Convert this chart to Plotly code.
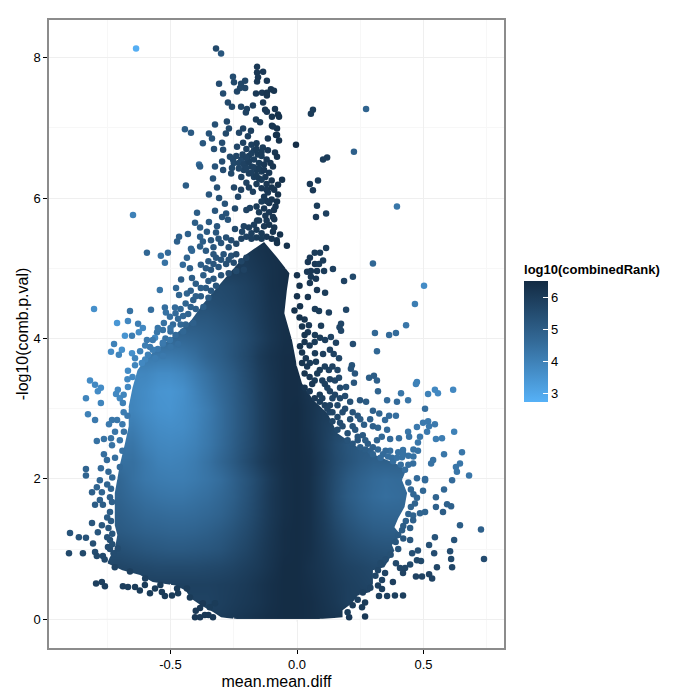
import plotly.graph_objects as go

# ---- dense body: estimated colour value per grid cell ----
body_x_edges = [-0.775 + 0.05 * i for i in range(26)]
body_y_edges = [0, 0.125, 0.375, 0.625, 0.875, 1.125, 1.375, 1.625, 1.875, 2.125, 2.375, 2.625, 2.875, 3.125,
                3.375, 3.625, 3.875, 4.125, 4.375, 4.625, 4.875, 5.125, 5.375]
row_start = [9, 7, 6, 1, 1, 1, 1, 1, 1, 2, 2, 2, 2, 2, 3, 4, 6, 7, 8, 9, 11, 11]
row_00 = [6.0, 6.1, 6.2, 6.3, 6.4, 6.45, 6.45, 6.4, 6.3, 6.2]
row_025 = [5.8, 5.8, 5.9, 6.0, 6.1, 6.2, 6.35, 6.45, 6.45, 6.4, 6.25, 6.1, 5.9]
row_050 = [5.85, 5.85, 5.85, 5.9, 5.95, 6.05, 6.2, 6.35, 6.45, 6.45, 6.35, 6.2, 6.05, 5.9, 5.8, 5.7]
row_075 = [5.7, 5.65, 5.6, 5.55, 5.55, 5.55, 5.55, 5.6, 5.65, 5.75, 5.9, 6.05, 6.25, 6.45, 6.45, 6.3, 6.15, 5.95, 5.8, 5.7, 5.6]
row_100 = [5.4, 5.3, 5.2, 5.15, 5.1, 5.1, 5.15, 5.2, 5.3, 5.5, 5.7, 5.95, 6.2, 6.4, 6.45, 6.35, 6.1, 5.85, 5.6, 5.45, 5.35, 5.3]
row_125 = [5.1, 5.0, 4.9, 4.85, 4.8, 4.8, 4.85, 4.95, 5.1, 5.3, 5.55, 5.85, 6.15, 6.4, 6.45, 6.35, 6.05, 5.7, 5.4, 5.2, 5.05, 5.0, 5.0]
row_150 = [4.95, 4.8, 4.65, 4.6, 4.55, 4.55, 4.6, 4.7, 4.85, 5.1, 5.4, 5.75, 6.1, 6.35, 6.45, 6.35, 6.0, 5.55, 5.2, 4.95, 4.8, 4.75, 4.75, 4.8]
row_175 = [4.8, 4.6, 4.45, 4.35, 4.3, 4.3, 4.4, 4.5, 4.7, 4.95, 5.3, 5.7, 6.1, 6.35, 6.45, 6.35, 5.95, 5.45, 5.05, 4.8, 4.6, 4.5, 4.55, 4.65]
row_200 = [4.7, 4.45, 4.25, 4.15, 4.1, 4.1, 4.2, 4.35, 4.55, 4.9, 5.25, 5.65, 6.05, 6.35, 6.45, 6.35, 5.95, 5.5, 5.1, 4.85, 4.65, 4.55, 4.6]
row_225 = [4.45, 4.2, 4.0, 3.95, 4.0, 4.15, 4.4, 4.75, 5.1, 5.5, 5.9, 6.2, 6.4, 6.45, 6.35, 6.0, 5.6, 5.3, 5.05, 4.9]
row_250 = [4.3, 4.0, 3.85, 3.8, 3.85, 4.0, 4.25, 4.6, 5.0, 5.4, 5.8, 6.15, 6.4, 6.45, 6.3, 5.95, 5.55, 5.25, 5.1]
row_275 = [4.1, 3.85, 3.7, 3.65, 3.7, 3.9, 4.2, 4.55, 4.95, 5.35, 5.8, 6.15, 6.4, 6.45, 6.25, 5.95, 5.7]
row_300 = [3.9, 3.7, 3.55, 3.5, 3.65, 3.85, 4.15, 4.55, 4.95, 5.35, 5.8, 6.15, 6.4, 6.45, 6.25, 6.0]
row_325 = [3.85, 3.7, 3.5, 3.45, 3.6, 3.95, 4.3, 4.65, 5.0, 5.4, 5.85, 6.15, 6.4, 6.4, 6.2]
row_350 = [3.85, 3.7, 3.7, 3.85, 4.15, 4.45, 4.8, 5.1, 5.5, 5.9, 6.2, 6.4, 6.4]
row_375 = [4.2, 4.2, 4.3, 4.5, 4.8, 5.0, 5.3, 5.6, 6.0, 6.25, 6.4, 6.4]
row_400 = [4.7, 4.8, 4.95, 5.1, 5.3, 5.55, 5.85, 6.15, 6.35, 6.4]
row_425 = [5.1, 5.15, 5.3, 5.45, 5.65, 5.95, 6.2, 6.35]
row_450 = [5.4, 5.5, 5.6, 5.8, 6.0, 6.25, 6.35]
row_475 = [5.6, 5.7, 5.85, 6.05, 6.3, 6.4]
row_500 = [6.0, 6.15, 6.3, 6.4]
row_525 = [6.1, 6.25, 6.35]
body_rows = [row_00, row_025, row_050, row_075, row_100, row_125, row_150, row_175, row_200, row_225, row_250,
             row_275, row_300, row_325, row_350, row_375, row_400, row_425, row_450, row_475, row_500, row_525]

# ---- outline of the solid body ----
edge_left_y = [0, .03, .1, .2, .3, .41, .48, .53, .63, .7, .8, .88, 1.0, 1.2, 1.34, 1.5, 1.65, 1.8, 2.0, 2.2, 2.5, 2.75,
               3.03, 3.3, 3.55, 3.65, 3.8, 4.0, 4.25, 4.5, 4.75, 5.0, 5.2, 5.375]
edge_left_x = [-.24, -.30, -.33, -.38, -.42, -.44, -.48, -.57, -.62, -.69, -.75, -.74, -.72, -.71, -.72, -.72, -.72, -.72,
               -.71, -.70, -.68, -.665, -.665, -.65, -.63, -.61, -.57, -.50, -.42, -.37, -.31, -.25, -.2, -.13]
edge_right_y = [0, .03, .13, .23, .34, .39, .51, .7, .74, .98, 1.06, 1.2, 1.31, 1.44, 1.6, 1.8, 1.98, 2.12, 2.2, 2.31, 2.45,
                2.65, 2.94, 3.12, 3.36, 3.6, 3.98, 4.36, 4.69, 4.93, 5.16, 5.375]
edge_right_x = [.09, .18, .18, .217, .24, .289, .30, .30, .345, .385, .375, .41, .385, .40, .425, .435, .415, .43, .40, .33,
                .24, .16, .12, .065, .02, 0, -.02, -.05, -.04, -.03, -.08, -.13]

# ---- separately visible points (x, y, colour value) ----
pts_top_left = [
    (-.636, 8.13, 2.8), (-.32, 8.13, 5.6), (-.30, 8.06, 5.2), (-.158, 7.87, 6.1), (-.158, 7.79, 6.1), (-.134, 7.80, 6.1),
    (-.154, 7.72, 6.1), (-.158, 7.66, 6.1), (-.253, 7.73, 5.5), (-.308, 7.63, 5.5), (-.249, 7.65, 5.6), (-.221, 7.63, 5.7),
    (-.205, 7.67, 5.7), (-.205, 7.57, 5.7), (-.237, 7.52, 5.7), (-.225, 7.57, 5.7), (-.119, 7.67, 6.1), (-.292, 7.49, 5.5),
    (-.162, 7.49, 6.1), (-.138, 7.50, 6.1), (-.119, 7.50, 6.2), (-.103, 7.55, 6.2), (-.091, 7.53, 6.2), (-.119, 7.46, 6.2),
    (-.273, 7.36, 5.6), (-.257, 7.30, 5.6), (-.221, 7.30, 5.7), (-.198, 7.27, 5.8), (-.174, 7.32, 5.9), (-.202, 7.22, 5.8),
    (-.134, 7.36, 6.1), (-.126, 7.26, 6.1), (-.119, 7.23, 6.1), (-.087, 7.27, 6.2), (-.075, 7.19, 6.3), (-.099, 7.16, 6.2),
    (-.277, 7.09, 5.6), (-.324, 7.05, 5.4), (-.162, 7.12, 6.0), (-.146, 7.08, 6.0), (-.099, 7.03, 6.2), (-.079, 6.99, 6.3),
    (-.443, 6.98, 5.0), (-.419, 6.93, 5.1), (-.348, 6.92, 5.3), (-.269, 6.99, 5.6), (-.281, 6.92, 5.6), (-.336, 6.85, 5.3),
    (-.213, 6.99, 5.8), (-.229, 6.93, 5.7), (-.182, 6.96, 5.9), (-.194, 6.88, 5.9), (-.115, 6.85, 6.1), (-.083, 6.90, 6.3),
    (-.372, 6.78, 5.2), (-.296, 6.79, 5.5), (-.328, 6.70, 5.4), (-.292, 6.69, 5.5), (-.237, 6.73, 5.7), (-.213, 6.79, 5.8),
    (-.387, 6.48, 4.6), (-.383, 6.45, 5.0), (-.324, 6.45, 5.3), (-.296, 6.52, 5.5), (-.265, 6.59, 5.6), (-.253, 6.55, 5.6),
    (-.292, 6.40, 5.5), (-.257, 6.43, 5.6), (-.332, 6.28, 5.3), (-.316, 6.15, 5.4), (-.439, 6.18, 5.0), (-.348, 6.05, 5.2),
    (-.249, 6.15, 5.7), (-.221, 6.12, 5.8), (-.233, 6.02, 5.7), (-.174, 6.09, 5.9), (-.308, 6.0, 5.4), (-.285, 5.92, 5.3),
    (-.245, 5.85, 5.6), (-.324, 5.82, 5.2), (-.395, 5.79, 5.0), (-.648, 5.76, 4.0), (-.186, 5.86, 5.8), (-.200, 5.83, 5.8),
    (-.296, 5.73, 5.3), (-.28, 5.78, 5.3), (-.273, 5.69, 5.3), (-.158, 5.68, 6.0), (-.403, 5.65, 5.0), (-.348, 5.66, 5.1),
    (-.316, 5.6, 5.2), (-.383, 5.58, 5.0), (-.431, 5.49, 4.9), (-.466, 5.45, 4.9), (-.474, 5.38, 4.9), (-.356, 5.52, 5.1),
    (-.32, 5.51, 5.2), (-.245, 5.56, 5.6), (-.217, 5.52, 5.7), (-.383, 5.45, 4.9), (-.372, 5.38, 5.0), (-.383, 5.31, 5.0),
    (-.419, 5.28, 4.8), (-.593, 5.22, 4.7), (-.538, 5.18, 4.4), (-.51, 5.22, 4.6), (-.522, 5.08, 4.4), (-.435, 5.15, 4.8),
    (-.415, 5.25, 4.7), (-.451, 5.05, 4.6), (-.423, 5.0, 4.9), (-.458, 4.84, 5.0), (-.415, 4.86, 5.0), (-.542, 4.69, 4.3),
    (-.478, 4.72, 4.7), (-.466, 4.62, 4.8), (-.435, 4.64, 4.8),
]
pts_upper_cluster = [
    (-.24, 5.35, 5.7), (-.22, 5.42, 5.8), (-.2, 5.45, 5.8), (-.18, 5.5, 5.9), (-.16, 5.55, 6.0), (-.14, 5.5, 6.0),
    (-.12, 5.45, 6.1), (-.10, 5.42, 6.2), (-.08, 5.40, 6.2), (-.13, 5.6, 6.1), (-.11, 5.62, 6.2), (-.09, 5.58, 6.2),
    (-.15, 5.68, 6.0), (-.125, 5.75, 6.1), (-.11, 5.8, 6.1), (-.09, 5.7, 6.2), (-.13, 5.85, 6.1), (-.11, 5.93, 6.2),
    (-.1, 5.98, 6.2), (-.085, 5.88, 6.2), (-.13, 6.02, 6.1), (-.115, 6.08, 6.1), (-.09, 6.12, 6.2), (-.14, 6.14, 6.1),
    (-.12, 6.2, 6.1), (-.1, 6.25, 6.2), (-.125, 6.3, 6.1), (-.11, 6.36, 6.1), (-.15, 6.28, 6.0), (-.17, 6.3, 5.9),
    (-.19, 6.35, 5.9), (-.21, 6.4, 5.8), (-.16, 6.4, 6.0), (-.14, 6.38, 6.0), (-.18, 6.45, 5.9), (-.2, 6.5, 5.8),
    (-.22, 6.55, 5.7), (-.24, 6.6, 5.7), (-.215, 6.62, 5.8), (-.19, 6.6, 5.9), (-.17, 6.55, 5.9), (-.15, 6.5, 6.0),
    (-.13, 6.48, 6.1), (-.17, 6.68, 5.9), (-.155, 6.62, 6.0), (-.14, 6.6, 6.0), (-.12, 6.55, 6.1), (-.105, 6.5, 6.2),
    (-.2, 6.7, 5.8), (-.18, 6.76, 5.9), (-.16, 6.78, 6.0), (-.135, 6.72, 6.0), (-.115, 6.68, 6.1), (-.25, 6.5, 5.6),
    (-.23, 6.42, 5.7), (-.26, 6.35, 5.6), (-.22, 6.3, 5.8), (-.2, 6.22, 5.8), (-.19, 6.15, 5.9), (-.16, 6.2, 6.0),
    (-.36, 5.25, 5.1), (-.33, 5.3, 5.2), (-.3, 5.36, 5.3), (-.27, 5.3, 5.4), (-.35, 5.1, 5.1), (-.32, 5.15, 5.2),
    (-.29, 5.2, 5.3), (-.26, 5.18, 5.4), (-.24, 5.2, 5.6), (-.38, 5.05, 5.0), (-.34, 4.98, 5.2), (-.31, 5.02, 5.2),
    (-.28, 5.06, 5.4), (-.25, 5.08, 5.5), (-.22, 5.1, 5.7), (-.2, 5.15, 5.8), (-.37, 4.9, 5.0), (-.33, 4.85, 5.2),
    (-.3, 4.9, 5.3), (-.27, 4.93, 5.5), (-.24, 4.96, 5.6), (-.21, 4.98, 5.8), (-.4, 4.78, 5.0), (-.36, 4.72, 5.1),
    (-.32, 4.75, 5.3), (-.44, 4.5, 4.8), (-.41, 4.55, 4.9), (-.38, 4.6, 5.0), (-.35, 4.58, 5.1), (-.46, 4.42, 4.7),
    (-.43, 4.35, 4.8), (-.4, 4.42, 4.9), (-.37, 4.45, 5.0), (-.49, 4.2, 4.6), (-.47, 4.28, 4.7), (-.44, 4.2, 4.8),
    (-.41, 4.22, 4.9), (-.52, 4.0, 4.4), (-.48, 4.05, 4.6), (-.45, 4.1, 4.7), (-.55, 3.85, 4.2), (-.5, 3.88, 4.4),
    (-.47, 3.92, 4.5), (-.6, 3.7, 3.9), (-.56, 3.72, 4.1), (-.53, 3.75, 4.2),
    (-.23, 6.5, 5.7), (-.21, 6.48, 5.8), (-.19, 6.52, 5.9), (-.17, 6.44, 5.9), (-.15, 6.42, 6.0), (-.13, 6.4, 6.1),
    (-.2, 6.58, 5.8), (-.18, 6.64, 5.9), (-.16, 6.7, 6.0), (-.14, 6.66, 6.0), (-.2, 6.42, 5.8), (-.18, 6.36, 5.9),
    (-.16, 6.32, 6.0), (-.14, 6.26, 6.0), (-.12, 6.12, 6.1), (-.1, 6.15, 6.2), (-.12, 5.96, 6.1), (-.14, 5.95, 6.0),
    (-.15, 5.8, 6.0), (-.16, 5.88, 6.0), (-.17, 5.62, 5.9), (-.19, 5.58, 5.9), (-.21, 5.6, 5.8), (-.12, 5.68, 6.1),
    (-.14, 5.42, 6.0), (-.16, 5.44, 6.0), (-.18, 5.42, 5.9), (-.26, 5.4, 5.5), (-.28, 5.44, 5.4), (-.31, 5.42, 5.3),
    (-.34, 5.4, 5.2), (-.33, 5.2, 5.2), (-.3, 5.12, 5.3), (-.27, 5.12, 5.4), (-.36, 5.0, 5.1), (-.33, 5.06, 5.2),
    (-.35, 4.82, 5.1), (-.38, 4.72, 5.0), (-.34, 4.68, 5.2), (-.42, 4.68, 4.9), (-.4, 4.6, 4.9), (-.42, 4.45, 4.9),
    (-.45, 4.32, 4.7), (-.48, 4.36, 4.6), (-.46, 4.2, 4.7), (-.5, 4.1, 4.5), (-.53, 3.92, 4.3), (-.57, 3.84, 4.1),
]
pts_top_right = [
    (.273, 7.27, 4.8), (.225, 6.66, 4.9), (.395, 5.88, 4.3), (.063, 7.26, 6.0), (.055, 7.20, 6.0), (-.004, 6.76, 6.4),
    (.119, 6.58, 6.0), (.103, 6.55, 6.0), (.083, 6.25, 6.0), (.051, 6.20, 6.1), (.063, 6.11, 6.1), (.079, 5.89, 6.0),
    (.115, 5.78, 5.9), (.075, 5.73, 6.1), (.115, 5.29, 6.0), (-.071, 7.16, 6.3), (-.095, 7.02, 6.2), (-.079, 6.9, 6.3),
    (-.071, 6.82, 6.3), (-.087, 6.65, 6.2), (-.079, 6.59, 6.3), (-.095, 6.45, 6.2), (-.059, 6.26, 6.3), (-.075, 6.19, 6.3),
    (-.075, 6.05, 6.3), (-.079, 5.95, 6.3), (-.091, 5.83, 6.2), (-.095, 5.73, 6.2), (-.095, 5.52, 6.2), (-.067, 5.48, 6.3),
    (-.079, 5.36, 6.3), (-.04, 5.32, 6.3),
]
pts_mid_right = [
    (.091, 5.22, 6.0), (.07, 5.22, 6.0), (.051, 5.15, 6.1), (.043, 5.09, 6.1), (.071, 5.06, 6.1), (.087, 5.06, 6.0),
    (.103, 5.11, 6.0), (.30, 5.07, 4.7), (.079, 4.96, 6.1), (.107, 4.96, 6.0), (.04, 4.95, 6.1), (.055, 4.96, 6.1),
    (.142, 4.99, 5.9), (.055, 4.88, 6.1), (.075, 4.85, 6.1), (.051, 4.79, 6.1), (.186, 4.82, 5.8), (.221, 4.88, 5.6),
    (.079, 4.69, 6.1), (.111, 4.65, 6.0), (.043, 4.59, 6.2), (.502, 4.75, 3.7), (.466, 4.49, 4.1), (.431, 4.19, 4.3),
    (.391, 4.08, 4.6), (.364, 4.05, 4.6), (.308, 4.08, 4.7), (.316, 3.82, 4.7), (.194, 4.41, 5.7), (.126, 4.37, 5.9),
    (.071, 4.42, 6.0), (.087, 4.39, 6.0), (.012, 4.46, 6.3), (-.01, 4.4, 6.3), (.095, 4.18, 6.0), (.174, 4.21, 5.7),
    (.168, 4.16, 5.7), (.174, 4.11, 5.7), (.047, 4.19, 6.1), (.02, 4.17, 6.2), (.03, 4.27, 6.2), (.043, 4.09, 6.1),
    (.071, 4.05, 6.0), (.091, 4.01, 6.0), (.111, 3.98, 5.9), (.134, 4.02, 5.8), (.154, 3.94, 5.8), (.221, 3.92, 5.5),
    (.13, 3.84, 5.8), (.145, 3.78, 5.8), (.071, 3.79, 6.0), (.103, 3.78, 5.9), (.166, 3.72, 5.7), (.012, 3.89, 6.3),
    (.02, 3.8, 6.2), (.035, 3.72, 6.1), (.051, 3.65, 6.0), (.075, 3.67, 6.0), (.126, 3.55, 5.8), (.217, 3.62, 5.3),
    (.213, 3.57, 5.3), (.229, 3.5, 5.2), (.166, 3.44, 5.6), (.285, 3.44, 5.0), (.304, 3.47, 5.0), (.316, 3.4, 4.9),
    (.225, 3.37, 5.2), (.32, 3.25, 4.8), (.194, 3.31, 5.4), (.474, 3.38, 4.0), (.47, 3.35, 4.0), (.545, 3.27, 3.8),
    (.557, 3.22, 3.8), (.617, 3.27, 3.8), (.518, 3.21, 4.0), (.411, 3.22, 4.3), (.439, 3.12, 4.3), (.356, 3.12, 4.6),
    (.395, 3.1, 4.6), (.249, 3.12, 5.2), (.273, 3.1, 5.1), (.506, 3.0, 4.5), (.364, 2.9, 4.6), (.391, 2.9, 4.5),
    (.30, 2.97, 4.9), (.325, 2.93, 4.8), (.348, 2.84, 4.6), (.356, 2.7, 4.6), (.289, 2.85, 4.9), (.265, 2.77, 5.0),
    (.30, 2.75, 4.9), (.32, 2.73, 4.8), (.474, 2.74, 4.2), (.498, 2.8, 4.2), (.518, 2.82, 4.2), (.522, 2.75, 4.2),
    (.545, 2.78, 4.2), (.514, 2.67, 4.2), (.621, 2.67, 4.0), (.439, 2.67, 4.3), (.486, 2.6, 4.3), (.573, 2.58, 4.1),
    (.549, 2.57, 4.1), (.403, 2.58, 4.5), (.368, 2.57, 4.6), (.316, 2.55, 4.8), (.335, 2.6, 4.7), (.478, 2.52, 4.3),
    (.443, 2.6, 4.4), (.652, 2.38, 4.3), (.581, 2.35, 4.3), (.538, 2.27, 4.4), (.53, 2.22, 4.4), (.644, 2.22, 4.3),
    (.628, 2.17, 4.3), (.632, 2.1, 4.3), (.68, 2.05, 4.3), (.478, 2.4, 4.4), (.46, 2.42, 4.4), (.419, 2.41, 4.4),
    (.40, 2.38, 4.4), (.368, 2.4, 4.5), (.415, 2.31, 4.4), (.459, 2.22, 4.5), (.474, 2.01, 4.6), (.506, 2.0, 4.6),
    (.427, 2.13, 4.5), (.22, 2.75, 5.3), (.20, 2.65, 5.4), (.24, 2.6, 5.2), (.28, 2.5, 5.0), (.18, 2.95, 5.5),
    (.16, 3.05, 5.6), (.14, 3.15, 5.7), (.12, 3.3, 5.8), (.10, 3.4, 5.9), (.08, 3.5, 6.0), (.09, 3.2, 6.0),
    (.13, 2.95, 5.7), (.17, 2.8, 5.5), (.35, 2.4, 4.6), (.33, 2.3, 4.6), (.38, 2.25, 4.5),
    (.03, 3.95, 6.2), (.05, 3.9, 6.1), (.02, 3.65, 6.2), (.03, 3.5, 6.2), (.05, 3.45, 6.1), (.07, 3.4, 6.0),
    (.09, 3.55, 6.0), (.11, 3.6, 5.9), (.14, 3.6, 5.8), (.16, 3.55, 5.7), (.15, 3.4, 5.7), (.13, 3.42, 5.8),
    (.11, 3.35, 5.9), (.13, 3.25, 5.8), (.17, 3.3, 5.6), (.19, 3.18, 5.5), (.17, 3.15, 5.6), (.15, 3.2, 5.7),
    (.21, 3.1, 5.4), (.19, 3.0, 5.5), (.22, 2.95, 5.3), (.24, 2.9, 5.2), (.25, 2.85, 5.1), (.21, 2.85, 5.4),
    (.23, 2.7, 5.2), (.26, 2.62, 5.1), (.27, 2.55, 5.0), (.3, 2.45, 4.9), (.29, 2.4, 4.9), (.32, 2.42, 4.7),
    (.34, 2.35, 4.6), (.14, 2.95, 5.7), (.16, 2.88, 5.6), (.18, 2.75, 5.5), (.2, 2.55, 5.3), (.22, 2.5, 5.2),
    (.25, 2.45, 5.0), (.03, 3.3, 6.2), (.05, 3.25, 6.1), (.07, 3.15, 6.1), (.09, 3.1, 6.0), (.11, 3.05, 5.9),
    (.13, 3.05, 5.8),
    (.375, 2.3, 4.5), (.395, 2.3, 4.4), (.42, 2.35, 4.4), (.44, 2.33, 4.4), (.44, 2.2, 4.5), (.46, 2.32, 4.4),
    (.41, 2.2, 4.5), (.36, 2.32, 4.5), (.3, 2.35, 4.8), (.27, 2.42, 5.0), (.24, 2.55, 5.2),
    (.16, 2.7, 5.6), (.14, 2.82, 5.7), (.12, 3.0, 5.8), (.1, 3.15, 5.9), (.06, 3.35, 6.1), (.04, 3.6, 6.1),
    (.07, 3.95, 6.0), (.03, 4.05, 6.2), (.01, 4.3, 6.3), (.0, 4.6, 6.3), (.01, 4.75, 6.3), (.0, 4.9, 6.3),
]
pts_low_right = [
    (.506, 1.98, 4.6), (.613, 1.98, 4.6), (.498, 1.83, 4.7), (.581, 1.85, 4.7), (.549, 1.74, 4.8), (.474, 1.73, 4.7),
    (.466, 1.65, 4.8), (.549, 1.6, 4.9), (.593, 1.64, 4.9), (.609, 1.61, 4.9), (.577, 1.53, 5.0), (.506, 1.53, 4.8),
    (.486, 1.51, 4.8), (.459, 1.48, 4.8), (.459, 1.41, 4.9), (.644, 1.34, 5.0), (.727, 1.28, 4.9), (.447, 1.3, 5.0),
    (.415, 1.27, 5.0), (.545, 1.17, 5.3), (.621, 1.13, 5.3), (.447, 1.13, 5.2), (.522, 1.06, 5.4), (.478, .98, 5.4),
    (.455, .94, 5.4), (.542, .94, 5.5), (.605, .97, 5.5), (.609, .86, 5.6), (.739, .86, 5.5), (.613, .74, 5.7),
    (.553, .74, 5.7), (.474, .84, 5.6), (.49, .83, 5.6), (.447, .78, 5.6), (.391, .8, 5.6), (.407, .73, 5.7),
    (.427, .73, 5.7), (.419, .66, 5.8), (.47, .61, 5.8), (.494, .61, 5.8), (.522, .64, 5.8), (.534, .58, 5.8),
    (.348, .66, 5.8), (.336, .56, 5.8), (.32, .48, 5.9), (.336, .43, 5.9), (.379, .53, 5.9), (.324, .33, 5.9),
    (.356, .33, 5.9), (.387, .34, 5.9), (.419, .34, 5.9), (.269, .04, 6.1), (.206, .03, 6.1), (.269, .24, 6.0),
    (.257, .17, 6.0),
    (.44, 1.95, 4.6), (.45, 1.85, 4.7), (.46, 1.78, 4.7), (.45, 1.6, 4.8), (.44, 1.5, 4.8), (.43, 1.4, 4.9),
    (.42, 1.33, 5.0), (.40, 1.2, 5.1), (.42, 1.15, 5.2), (.39, 1.1, 5.2), (.40, 1.0, 5.3), (.37, .92, 5.4),
    (.35, .85, 5.5), (.33, .8, 5.6), (.31, .62, 5.7), (.32, .7, 5.7), (.29, .45, 5.8), (.26, .38, 5.9),
    (.24, .28, 5.9), (.22, .2, 6.0), (.2, .1, 6.0),
]
pts_low_left = [
    (-.834, 2.14, 4.8), (-.834, 2.05, 4.8), (-.775, 2.15, 4.6), (-.779, 1.98, 4.7), (-.791, 1.88, 4.8), (-.81, 1.81, 4.9),
    (-.771, 1.81, 4.8), (-.798, 1.63, 5.0), (-.779, 1.7, 4.9), (-.767, 1.63, 5.0), (-.81, 1.37, 5.2), (-.771, 1.34, 5.2),
    (-.787, 1.24, 5.2), (-.897, 1.23, 5.3), (-.862, 1.17, 5.3), (-.834, 1.16, 5.3), (-.806, 1.08, 5.4), (-.901, .94, 5.6),
    (-.846, .94, 5.6), (-.798, .96, 5.5), (-.791, .9, 5.6), (-.767, .9, 5.6), (-.747, 1.03, 5.5), (-.794, .51, 5.9),
    (-.771, .53, 5.9), (-.759, .47, 5.9), (-.688, .47, 5.9), (-.668, .46, 5.9), (-.64, .46, 6.0), (-.621, .41, 6.0),
    (-.601, .49, 6.0), (-.581, .37, 6.0), (-.561, .44, 6.0), (-.534, .39, 6.0), (-.522, .33, 6.0), (-.494, .34, 6.0),
    (-.47, .37, 6.0), (-.474, .44, 6.0), (-.435, .44, 6.0), (-.423, .31, 6.0), (-.403, .03, 6.1), (-.383, .03, 6.1),
    (-.364, .06, 6.1), (-.383, .16, 6.1), (-.372, .23, 6.1), (-.332, .03, 6.1), (-.345, .17, 6.0), (-.324, .23, 6.0),
    (-.739, 1.74, 4.9), (-.731, 1.67, 4.9), (-.739, 1.53, 5.0), (-.739, 1.13, 5.4), (-.739, 1.0, 5.5), (-.708, 1.01, 5.5),
    (-.745, 2.1, 4.7), (-.73, 2.02, 4.7), (-.75, 1.92, 4.8), (-.735, 1.86, 4.8), (-.75, 1.45, 5.0), (-.735, 1.4, 5.1),
    (-.745, 1.3, 5.2), (-.73, 1.22, 5.2), (-.75, 1.17, 5.3), (-.73, 1.07, 5.4), (-.725, .94, 5.5), (-.76, .85, 5.6),
    (-.72, .74, 5.8), (-.66, .68, 5.9), (-.6, .58, 5.9), (-.54, .49, 6.0), (-.4, .12, 6.1), (-.35, .06, 6.1),
]
pts_mid_left = [
    (-.802, 4.42, 3.6), (-.66, 4.39, 4.4), (-.577, 4.41, 4.5), (-.711, 4.22, 3.4), (-.668, 4.25, 3.8), (-.628, 4.21, 4.1),
    (-.522, 4.44, 4.5), (-.518, 4.37, 4.4), (-.482, 4.44, 4.6), (-.502, 4.31, 4.5), (-.526, 4.22, 4.4), (-.553, 4.09, 4.3),
    (-.53, 4.12, 4.4), (-.609, 4.15, 3.8), (-.625, 4.09, 3.7), (-.68, 4.04, 3.5), (-.652, 4.04, 4.1), (-.723, 3.92, 4.0),
    (-.735, 3.81, 3.7), (-.692, 3.84, 3.6), (-.704, 3.77, 3.9), (-.652, 3.79, 3.6), (-.593, 3.98, 4.2), (-.581, 3.88, 4.2),
    (-.561, 4.01, 3.8), (-.502, 3.98, 4.3), (-.53, 3.94, 4.2), (-.589, 3.77, 4.0), (-.64, 3.62, 3.9), (-.613, 3.65, 3.8),
    (-.668, 3.54, 3.7), (-.818, 3.4, 3.7), (-.798, 3.34, 3.8), (-.775, 3.3, 3.7), (-.787, 3.25, 3.7), (-.834, 3.15, 3.9),
    (-.775, 3.08, 3.9), (-.708, 3.27, 3.8), (-.715, 3.21, 3.8), (-.7, 3.15, 3.8), (-.826, 2.92, 4.0), (-.798, 2.84, 4.2),
    (-.731, 2.84, 4.3), (-.743, 2.78, 4.2), (-.711, 2.84, 4.3), (-.719, 2.67, 4.3), (-.791, 2.54, 4.4), (-.763, 2.57, 4.4),
    (-.735, 2.58, 4.4), (-.731, 2.48, 4.4), (-.763, 2.35, 4.5), (-.751, 2.27, 4.6), (-.719, 2.3, 4.5), (-.7, 2.17, 4.6),
    (-.684, 2.67, 4.4), (-.688, 3.08, 4.0), (-.668, 3.31, 3.8), (-.65, 3.45, 3.8), (-.67, 2.9, 4.2),
    (-.69, 2.4, 4.4), (-.7, 2.55, 4.3), (-.69, 2.78, 4.2), (-.685, 2.95, 4.1), (-.685, 3.2, 3.9), (-.67, 3.42, 3.8),
    (-.64, 3.72, 3.9), (-.62, 3.82, 4.0), (-.6, 3.9, 4.1), (-.57, 3.98, 4.2), (-.55, 4.15, 4.3), (-.5, 4.15, 4.4),
]

point_groups = [pts_top_left, pts_upper_cluster, pts_top_right, pts_mid_right, pts_low_right, pts_low_left, pts_mid_left]

x_ticks = [-0.5, 0, 0.5]
x_tick_labels = ["-0.5", "0.0", "0.5"]
x_minor = [-0.75, -0.25, 0.25, 0.75]
y_ticks = [0, 2, 4, 6, 8]
y_minor = [1, 3, 5, 7]
bar_ticks = [3, 4, 5, 6]

# rows carry their first/last value out to the grid border; the outline traces trim them
body_z = [[r[0]] * s + list(r) + [r[-1]] * (25 - s - len(r)) for s, r in zip(row_start, body_rows)]
all_pts = [p for g in point_groups for p in g]

scale = [[0, "#56B1F7"], [0.5, "#336A98"], [1, "#132B43"]]
FONT = "Liberation Sans"
MAJOR = "#EFEFEF"
MINOR = "#F7F7F7"
PAD = 0.012
box_l, box_r = body_x_edges[0] - PAD, body_x_edges[-1] + PAD
box_t, box_b = body_y_edges[-1] + PAD * 3, -PAD * 3


def along(ys, xs, y):
    for i in range(len(ys) - 1):
        if ys[i] <= y <= ys[i + 1]:
            f = (y - ys[i]) / (ys[i + 1] - ys[i])
            return xs[i] + f * (xs[i + 1] - xs[i])
    return None


fig = go.Figure()
fig.add_trace(go.Heatmap(x=body_x_edges, y=body_y_edges, z=body_z, zsmooth="best", coloraxis="coloraxis"))
fig.add_trace(go.Scatter(x=[edge_left_x[0]] + edge_left_x + [edge_left_x[-1], box_l, box_l],
                         y=[box_b] + edge_left_y + [box_t, box_t, box_b],
                         mode="none", fill="toself", fillcolor="white", hoverinfo="skip"))
fig.add_trace(go.Scatter(x=[edge_right_x[0]] + edge_right_x + [edge_right_x[-1], box_r, box_r],
                         y=[box_b] + edge_right_y + [box_t, box_t, box_b],
                         mode="none", fill="toself", fillcolor="white", hoverinfo="skip"))

# grid lines again over the white outline traces, outside the solid body only
for ticks_, colour in [(x_ticks, MAJOR), (x_minor, MINOR)]:
    xs, ys = [], []
    for t in ticks_:
        if not box_l < t < box_r:
            continue
        steps = [box_b + i * 0.02 for i in range(int((box_t - box_b) / 0.02) + 1)]
        prev, start = None, box_b
        for y in steps:
            l_, r_ = along(edge_left_y, edge_left_x, y), along(edge_right_y, edge_right_x, y)
            inside = l_ is not None and r_ is not None and l_ <= t <= r_
            if prev is False and inside:
                xs += [t, t, None]
                ys += [start, y, None]
            if prev is True and not inside:
                start = y
            prev = inside
        if prev is False:
            xs += [t, t, None]
            ys += [start, box_t, None]
    fig.add_trace(go.Scatter(x=xs, y=ys, mode="lines", line=dict(color=colour, width=1), hoverinfo="skip"))
for ticks_, colour in [(y_ticks, MAJOR), (y_minor, MINOR)]:
    xs, ys = [], []
    for t in ticks_:
        if not box_b < t < box_t:
            continue
        l_, r_ = along(edge_left_y, edge_left_x, t), along(edge_right_y, edge_right_x, t)
        xs += [box_l, l_, None, r_, box_r, None]
        ys += [t, t, None, t, t, None]
    fig.add_trace(go.Scatter(x=xs, y=ys, mode="lines", line=dict(color=colour, width=1), hoverinfo="skip"))

fig.add_trace(go.Scatter(x=[p[0] for p in all_pts], y=[p[1] for p in all_pts], mode="markers",
                         marker=dict(size=6.5, color=[p[2] for p in all_pts], coloraxis="coloraxis", line=dict(width=0))))

fig.update_layout(
    width=692, height=692, autosize=False, showlegend=False,
    margin=dict(l=41, r=196, t=12, b=52), plot_bgcolor="white", paper_bgcolor="white",
    font=dict(family=FONT, size=13, color="black"),
    coloraxis=dict(colorscale=scale, cmin=2.72, cmax=6.5,
                   colorbar=dict(x=1.044, xanchor="left", xpad=0, y=0.3917, yanchor="bottom", ypad=0,
                                 len=141 / 628, lenmode="fraction", thickness=24, thicknessmode="pixels",
                                 outlinewidth=0, tickvals=bar_ticks, ticks="inside", ticklen=5, tickcolor="white",
                                 tickfont=dict(size=13, family=FONT),
                                 title=dict(text="<b>log10(combinedRank)</b>", side="top",
                                            font=dict(size=13, family=FONT)))),
    xaxis=dict(range=[-0.980, 0.818], tickvals=x_ticks, ticktext=x_tick_labels, ticks="outside", ticklen=4,
               tickcolor="black", tickfont=dict(size=13), showgrid=True, gridcolor=MAJOR, gridwidth=1,
               minor=dict(tickvals=x_minor, showgrid=True, gridcolor=MINOR, gridwidth=1, ticks=""),
               showline=True, mirror=True, linecolor="#8C8C8C", linewidth=1.5, zeroline=False, automargin=False,
               title=dict(text="mean.mean.diff", font=dict(size=16), standoff=4)),
    yaxis=dict(range=[-0.409, 8.537], tickvals=y_ticks, ticks="outside", ticklen=4, tickcolor="black",
               tickfont=dict(size=13), showgrid=True, gridcolor=MAJOR, gridwidth=1,
               minor=dict(tickvals=y_minor, showgrid=True, gridcolor=MINOR, gridwidth=1, ticks=""),
               showline=True, mirror=True, linecolor="#8C8C8C", linewidth=1.5, zeroline=False, automargin=False,
               title=dict(text="-log10(comb.p.val)", font=dict(size=16), standoff=1)),
)
fig.write_html("out.html")
